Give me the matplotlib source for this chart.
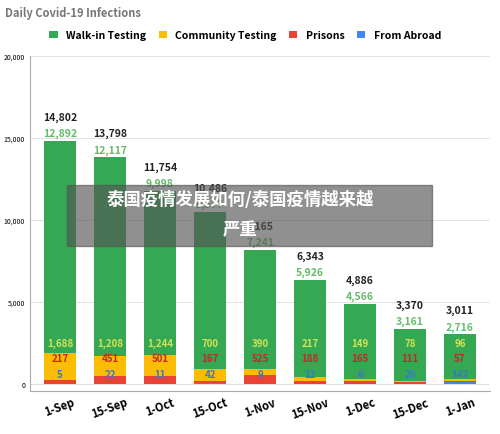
import matplotlib.pyplot as plt
import numpy as np
from matplotlib.patches import Rectangle

plt.rcParams['font.family'] = ['Noto Sans CJK SC', 'DejaVu Sans']

dates = ['1-Sep', '15-Sep', '1-Oct', '15-Oct', '1-Nov', '15-Nov', '1-Dec', '15-Dec', '1-Jan']
walk_in = [12892, 12117, 9998, 9577, 7241, 5926, 4566, 3161, 2716]
community = [1688, 1208, 1244, 700, 390, 217, 149, 78, 96]
prisons = [217, 451, 501, 167, 525, 188, 165, 111, 57]
abroad = [5, 22, 11, 42, 9, 12, 6, 20, 142]
totals = [14802, 13798, 11754, 10486, 8165, 6343, 4886, 3370, 3011]

c_walk, c_comm, c_pris, c_abr = '#34a853', '#fbbc04', '#ea4335', '#4285f4'

fig = plt.figure(figsize=(5, 4.35), dpi=100)
ax = fig.add_axes([0.06, 0.1, 0.92, 0.77])
x = np.arange(len(dates))
w = 0.65
b = np.zeros(len(dates))
for vals, col, lab in [(abroad, c_abr, 'From Abroad'), (prisons, c_pris, 'Prisons'),
                       (community, c_comm, 'Community Testing'), (walk_in, c_walk, 'Walk-in Testing')]:
    ax.bar(x, vals, w, bottom=b, color=col, edgecolor='none', label=lab)
    b += np.array(vals)

for i in range(len(dates)):
    ax.text(x[i], 2300, f'{community[i]:,}', ha='center', fontsize=7, color='#d4e157', fontweight='bold')
    ax.text(x[i], 1400, f'{prisons[i]:,}', ha='center', fontsize=7, color='#c62828', fontweight='bold')
    ax.text(x[i], 450, f'{abroad[i]:,}', ha='center', fontsize=7, color='#3a78c9', fontweight='bold')
    ax.text(x[i], totals[i] + 300, f'{walk_in[i]:,}', ha='center', fontsize=7.5, color='#66bb6a', fontweight='bold')
    ax.text(x[i], totals[i] + 1300, f'{totals[i]:,}', ha='center', fontsize=7.5, color='#222', fontweight='bold', style='italic')

ax.set_ylim(-400, 20000)
ax.set_xlim(-0.6, len(dates) - 0.4)
ax.set_yticks(range(0, 20001, 5000))
ax.set_yticklabels([f'{v:,}' for v in range(0, 20001, 5000)], fontsize=5)
ax.set_xticks(x)
ax.set_xticklabels(dates, rotation=20, fontsize=8, fontweight='bold')
ax.grid(axis='y', color='#ddd', lw=0.6)
ax.set_axisbelow(True)
for s in ['top', 'right']:
    ax.spines[s].set_visible(False)
ax.spines['left'].set_color('#aaa')
ax.spines['bottom'].set_color('#aaa')
ax.tick_params(length=0)

h, l = ax.get_legend_handles_labels()
fig.legend(h[::-1], l[::-1], loc='upper left', bbox_to_anchor=(0.08, 0.95), ncol=4, frameon=False,
           handlelength=0.8, handleheight=0.8, columnspacing=1.2, prop={'weight': 'bold', 'size': 7.5})
fig.text(0.01, 0.985, 'Daily Covid-19 Infections', fontsize=8, color='#777', fontweight='bold', va='top')

fig.patches.append(Rectangle((0.134, 0.432), 0.73, 0.14, transform=fig.transFigure,
                             color='#555', alpha=0.65, zorder=10))
fig.text(0.48, 0.54, '泰国疫情发展如何/泰国疫情越来越', ha='center', va='center', fontsize=12.5,
         color='white', fontweight='bold', zorder=11)
fig.text(0.48, 0.472, '严重', ha='center', va='center', fontsize=12.5, color='white', fontweight='bold', zorder=11)

fig.savefig('out.png')
